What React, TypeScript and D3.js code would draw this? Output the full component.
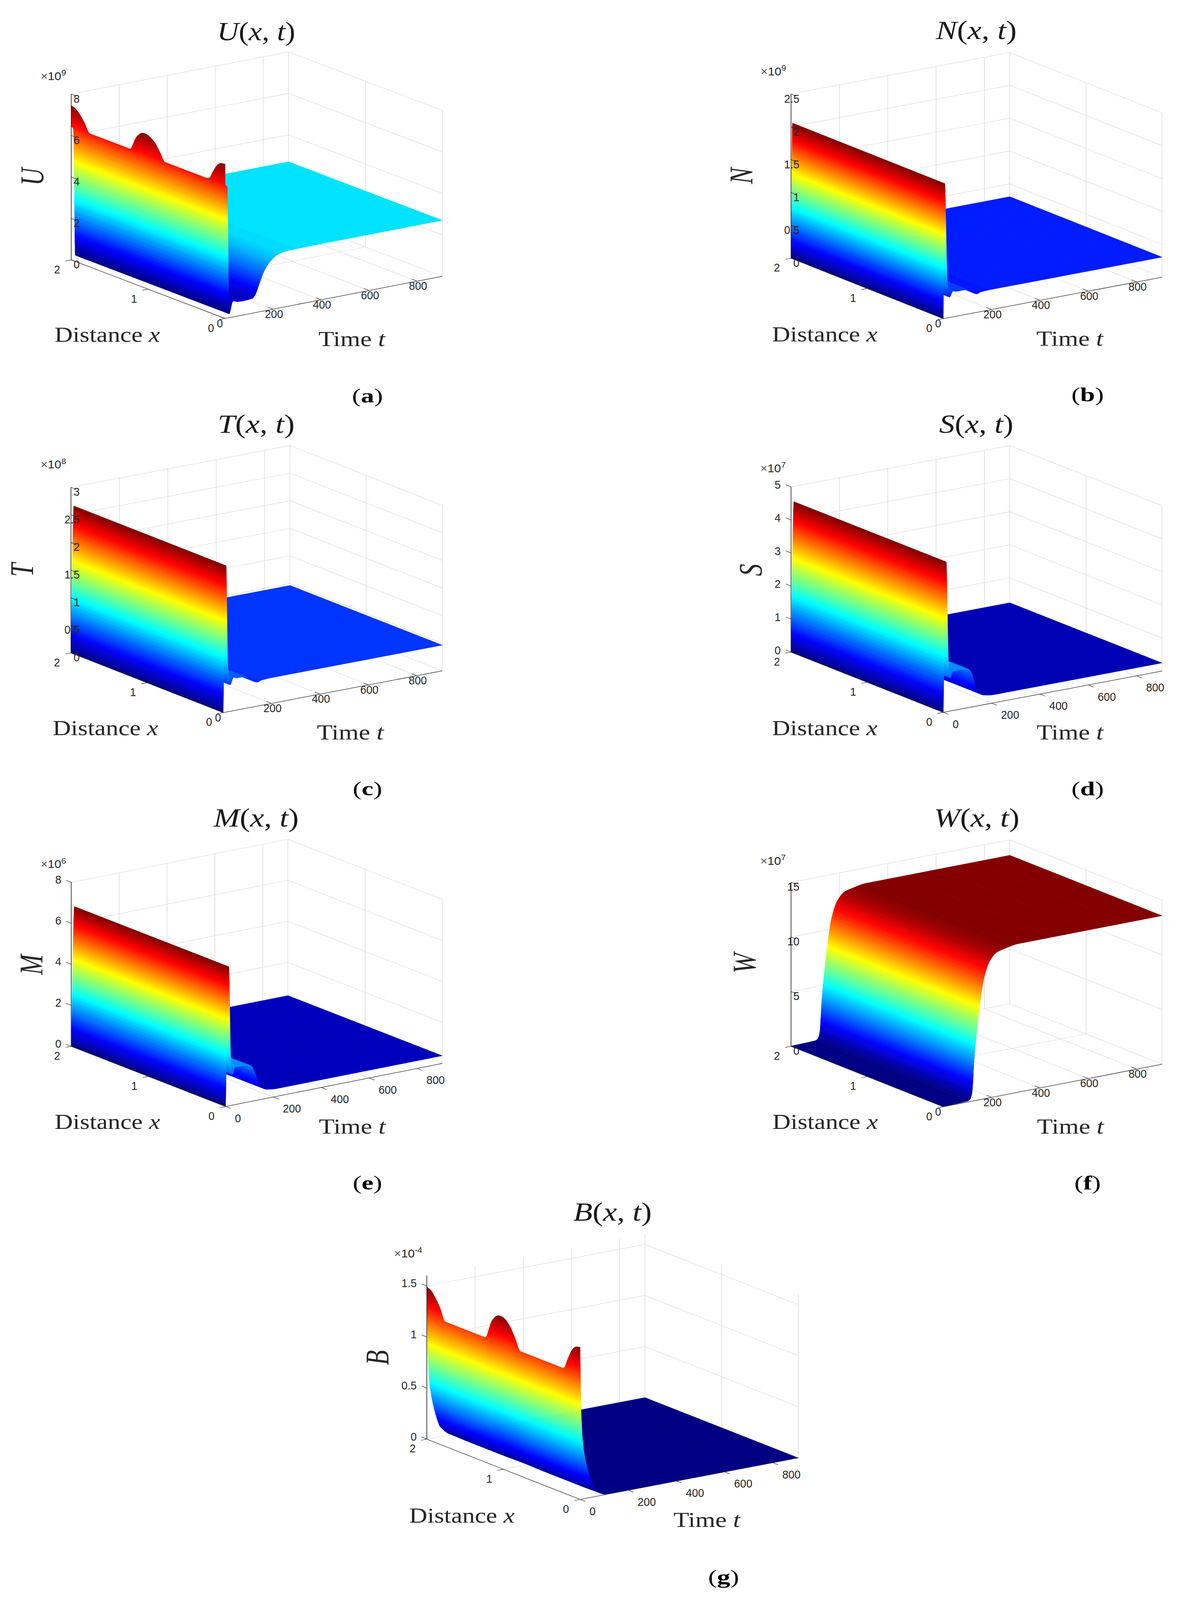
import React from "react";
import * as d3 from "d3";

// ---------- data (values in units of the axis exponent) ----------
const xKnots = [0, 0.05, 0.1, 0.15, 0.22, 0.78, 0.85, 0.92, 1.0, 1.04, 1.08, 1.15, 1.24, 1.76, 1.83, 1.9, 1.95, 2];
const noExcess = xKnots.map(() => 0);
const U_excess = [1.03, 1.0, 0.85, 0.5, 0, 0, 0.42, 0.8, 1.0, 1.03, 1.0, 0.72, 0, 0, 0.45, 0.8, 0.97, 1.03];
const B_excess = [0.27, 0.26, 0.22, 0.13, 0, 0, 0.11, 0.21, 0.265, 0.27, 0.26, 0.19, 0, 0, 0.12, 0.21, 0.255, 0.27];

const U_t = [0, 0.5, 9, 17, 33, 54, 80, 114, 125, 141, 160, 181, 200, 221, 261, 400, 905];
const U_z = [6.42, 6.42, 6.3, 0.19, 0.76, 0.69, 0.68, 0.71, 0.85, 1.3, 1.85, 2.24, 2.45, 2.6, 2.68, 2.7, 2.7];
const U_w = [1, 0, 0, 0, 0, 0, 0, 0, 0, 0, 0, 0, 0, 0, 0, 0, 0];

const N_t = [0, 6, 16, 26, 40, 55, 97, 140, 156, 199, 542, 905];
const N_z = [0, 2.05, 0.63, 0.31, 0.39, 0.377, 0.375, 0.28, 0.3, 0.305, 0.305, 0.305];

const T_t = [0, 12, 19, 29, 43, 56, 86, 142, 158, 200, 905];
const T_z = [0, 2.65, 0.87, 0.48, 0.6, 0.58, 0.577, 0.433, 0.454, 0.465, 0.465];

const S_t = [0, 12, 22, 30, 40, 101, 119, 137, 168, 210, 905];
const S_z = [0, 4.53, 1.39, 1.0, 1.19, 1.17, 0.99, 0.49, 0.29, 0.245, 0.245];

const M_t = [0, 13.5, 22, 29, 39, 107, 125, 144, 174, 217, 905];
const M_z = [0, 6.78, 2.1, 1.5, 1.83, 1.73, 1.28, 0.66, 0.43, 0.375, 0.375];

const W_t = [0, 101, 111, 119, 128, 150, 168, 192, 223, 259, 308, 905];
const W_z = [0.02, 0.09, 0.23, 0.79, 3.84, 8.5, 11, 12.5, 13.2, 13.4, 13.58, 13.58];

const B_t = [0, 4, 12, 31, 47, 55, 105, 200, 905];
const B_z = [1.22, 0.72, 0.44, 0.23, 0.12, 0.08, 0.003, 0, 0];
const B_w = [1, 0.59, 0.36, 0.19, 0.1, 0.066, 0.003, 0, 0];

const tTicks = [0, 200, 400, 600, 800];
const xTicks = [0, 1, 2];
const tMax = 905;

const U_zt = [0, 2, 4, 6, 8];
const N_zt = [0, 0.5, 1, 1.5, 2, 2.5];
const T_zt = [0, 0.5, 1, 1.5, 2, 2.5, 3];
const S_zt = [0, 1, 2, 3, 4, 5];
const M_zt = [0, 2, 4, 6, 8];
const W_zt = [0, 5, 10, 15];
const B_zt = [0, 0.5, 1, 1.5];

const zeros = (a: number[]) => a.map(() => 0);

// ---------- layout ----------
type Panel = {
  sym: string; cap: string; exp: string; t: number[]; z: number[]; w: number[]; ex: number[];
  zt: number[]; zMax: number; inward: boolean;
  F: number[]; L: number[]; R: number[]; topY: number;
  zLabX: number; zLabDy: number; expP: number[]; titleP: number[]; titleLen: number;
  symP: number[]; distP: number[]; timeP: number[]; capP: number[];
};

const panels: Panel[] = [
  { sym: "U", cap: "a", exp: "9", t: U_t, z: U_z, w: U_w, ex: U_excess, zt: U_zt, zMax: 8, inward: true,
    F: [576.3, 1095.8], L: [182.4, 894.2], R: [1132.7, 950.6], topY: 323.7,
    zLabX: 204, zLabDy: 15.7, expP: [104, 276], titleP: [656, 138], titleLen: 200,
    symP: [83, 608], distP: [274.7, 1176.6], timeP: [901, 1191], capP: [941, 1367] },
  { sym: "N", cap: "b", exp: "9", t: N_t, z: N_z, w: zeros(N_t), ex: noExcess, zt: N_zt, zMax: 2.5, inward: true,
    F: [2415.5, 1096.4], L: [2025.6, 888.4], R: [2975.7, 953.6], topY: 323.2,
    zLabX: 2047, zLabDy: 16, expP: [1948, 259], titleP: [2500, 134], titleLen: 207,
    symP: [1899, 605], distP: [2112, 1174], timeP: [2739.5, 1189], capP: [2785, 1363] },
  { sym: "T", cap: "c", exp: "8", t: T_t, z: T_z, w: zeros(T_t), ex: noExcess, zt: T_zt, zMax: 3, inward: true,
    F: [571.5, 2451.8], L: [181.7, 2246.4], R: [1132.5, 2308], topY: 1676.8,
    zLabX: 204, zLabDy: 15, expP: [104, 1612], titleP: [656, 1489], titleLen: 197,
    symP: [57, 1961], distP: [270, 2529.5], timeP: [897, 2544.6], capP: [941, 2720] },
  { sym: "S", cap: "d", exp: "7", t: S_t, z: S_z, w: zeros(S_t), ex: noExcess, zt: S_zt, zMax: 5, inward: false,
    F: [2415.5, 2450.9], L: [2025.6, 2243.8], R: [2975.7, 2308.9], topY: 1675,
    zLabX: 1999, zLabDy: -7, expP: [1947, 1625], titleP: [2500, 1489], titleLen: 190,
    symP: [1923, 1961], distP: [2112, 2529.5], timeP: [2740, 2544.6], capP: [2785, 2720] },
  { sym: "M", cap: "e", exp: "6", t: M_t, z: M_z, w: zeros(M_t), ex: noExcess, zt: M_zt, zMax: 8, inward: false,
    F: [577.6, 3807], L: [182.4, 3600], R: [1132.5, 3658.9], topY: 3035.7,
    zLabX: 157, zLabDy: -9, expP: [104, 2987], titleP: [656, 2844], titleLen: 218,
    symP: [81, 3319], distP: [275, 3884], timeP: [902, 3900], capP: [941, 4076] },
  { sym: "W", cap: "f", exp: "7", t: W_t, z: W_z, w: zeros(W_t), ex: noExcess, zt: W_zt, zMax: 15, inward: true,
    F: [2415.5, 3808], L: [2025.6, 3600], R: [2975.7, 3661.6], topY: 3035.7,
    zLabX: 2047, zLabDy: 15, expP: [1947, 2975], titleP: [2501, 2844], titleLen: 219,
    symP: [1907, 3314], distP: [2113, 3884], timeP: [2741, 3900], capP: [2785, 4076] },
  { sym: "B", cap: "g", exp: "-4", t: B_t, z: B_z, w: B_w, ex: B_excess, zt: B_zt, zMax: 1.6, inward: false,
    F: [1485.4, 5159], L: [1092.9, 4951.6], R: [2044.1, 5016], topY: 4389.3,
    zLabX: 1067, zLabDy: -9.5, expP: [1009, 4326.5], titleP: [1568.5, 4200], titleLen: 201,
    symP: [967, 4671], distP: [1182.8, 5239], timeP: [1810, 5253.7], capP: [1853, 5431] },
];

// ---------- helpers ----------
function pchip(xs: number[], ys: number[]) {
  const n = xs.length;
  const h = d3.pairs(xs, (a, b) => b - a);
  const s = d3.range(n - 1).map((i) => (ys[i + 1] - ys[i]) / h[i]);
  const m = xs.map((_, i) => {
    if (i === 0) return s[0];
    if (i === n - 1) return s[n - 2];
    if (s[i - 1] * s[i] <= 0) return 0;
    return (2 * s[i - 1] * s[i]) / (s[i - 1] + s[i]);
  });
  const bis = d3.bisector((v: number) => v).right;
  return (x: number) => {
    const i = Math.min(n - 2, Math.max(0, bis(xs, x) - 1));
    const u = (x - xs[i]) / h[i];
    const c = u * u, q = c * u;
    return (2 * q - 3 * c + 1) * ys[i] + (q - 2 * c + u) * h[i] * m[i] +
      (-2 * q + 3 * c) * ys[i + 1] + (q - c) * h[i] * m[i + 1];
  };
}

const jetBase = d3.scaleLinear<string>()
  .domain([0, 0.125, 0.375, 0.625, 0.875, 1])
  .range(["#000080", "#0000ff", "#00ffff", "#ffff00", "#ff0000", "#800000"])
  .clamp(true);
const LEVELS = 128;
const jetPalette = d3.range(LEVELS).map((i) => jetBase((i + 0.5) / LEVELS));

const SERIF = "'Liberation Serif', serif";
const SANS = "'Liberation Sans', sans-serif";
const INK = "#262626";
const GRID = "#dcdcdc";

function Surface({ p, px, py }: { p: Panel; px: (x: number, t: number) => number; py: (x: number, t: number, z: number) => number }) {
  const baseF = pchip(p.t, p.z);
  const weightF = pchip(p.t, p.w);
  const exF = pchip(xKnots, p.ex);
  const exMax = d3.max(p.ex) as number;
  const zVal = (x: number, t: number) => baseF(t) + weightF(t) * exF(x);
  const zLo = d3.min(p.z) as number;
  const zHi = d3.max(p.t, (t) => baseF(t) + weightF(t) * exMax) as number;
  const colorOf = d3.scaleQuantize<string>().domain([zLo, zHi]).range(jetPalette);
  const xCells = d3.range(0, 121).map((i) => 2 - i / 60);
  const out: { d: string; c: string }[] = [];
  const P = (x: number, t: number) => `${px(x, t).toFixed(1)},${py(x, t, zVal(x, t)).toFixed(1)}`;

  for (let s = p.t.length - 2; s >= 0; s--) {
    const a = p.t[s], b = p.t[s + 1];
    const dz = Math.max(Math.abs(p.z[s + 1] - p.z[s]), Math.abs(p.w[s + 1] - p.w[s]) * exMax);
    const n = Math.max(4, Math.ceil((dz / (zHi - zLo)) * 220));
    for (let j = n - 1; j >= 0; j--) {
      const t0 = a + ((b - a) * j) / n;
      const t1 = a + ((b - a) * (j + 1)) / n;
      const hasBump = exMax * Math.max(weightF(t0), weightF(t1)) > 1e-4 * (zHi - zLo);
      if (!hasBump) {
        const c = colorOf((baseF(t0) + baseF(t1)) / 2);
        out.push({ d: `M${P(2, t0)}L${P(0, t0)}L${P(0, t1)}L${P(2, t1)}Z`, c });
      } else {
        let start = 0;
        const cellColor = (i: number) => {
          const xm = (xCells[i] + xCells[i + 1]) / 2;
          return colorOf((zVal(xm, t0) + zVal(xm, t1)) / 2);
        };
        for (let i = 0; i < xCells.length - 1; i++) {
          const c = cellColor(i);
          if (i === xCells.length - 2 || cellColor(i + 1) !== c) {
            const seg = xCells.slice(start, i + 2);
            const top = seg.map((x) => P(x, t0));
            const bot = seg.slice().reverse().map((x) => P(x, t1));
            out.push({ d: `M${top.join("L")}L${bot.join("L")}Z`, c });
            start = i + 1;
          }
        }
      }
    }
  }
  return (
    <g>
      {out.map((o, i) => (
        <path key={i} d={o.d} fill={o.c} stroke={o.c} strokeWidth={0.9} strokeLinejoin="round" />
      ))}
    </g>
  );
}

function Label({ x, y, anchor, text }: { x: number; y: number; anchor: "start" | "middle" | "end"; text: string }) {
  return (
    <text transform={`translate(${x},${y}) scale(0.7,1)`} textAnchor={anchor} fontFamily={SANS} fontSize={40} fill={INK}>
      {text}
    </text>
  );
}

function Chart({ p }: { p: Panel }) {
  const [Fx, Fy] = p.F, [Lx, Ly] = p.L, [Rx, Ry] = p.R;
  const sxX = d3.scaleLinear().domain([0, 2]).range([0, Lx - Fx]);
  const sxY = d3.scaleLinear().domain([0, 2]).range([0, Ly - Fy]);
  const stX = d3.scaleLinear().domain([0, tMax]).range([0, Rx - Fx]);
  const stY = d3.scaleLinear().domain([0, tMax]).range([0, Ry - Fy]);
  const sz = d3.scaleLinear().domain([0, p.zMax]).range([0, p.topY - Ly]);
  const px = (x: number, t: number) => Fx + sxX(x) + stX(t);
  const py = (x: number, t: number, z: number) => Fy + sxY(x) + stY(t) + sz(z);

  const gridLine = (a: number[], b: number[], k: string) => (
    <line key={k} x1={a[0]} y1={a[1]} x2={b[0]} y2={b[1]} stroke={GRID} strokeWidth={1.6} />
  );
  const P3 = (x: number, t: number, z: number) => [px(x, t), py(x, t, z)];

  const grid: React.ReactNode[] = [];
  p.zt.forEach((z) => {
    grid.push(gridLine(P3(2, 0, z), P3(2, tMax, z), `zb${z}`));
    grid.push(gridLine(P3(2, tMax, z), P3(0, tMax, z), `zr${z}`));
  });
  tTicks.filter((t) => t > 0).forEach((t) => {
    grid.push(gridLine(P3(2, t, 0), P3(2, t, p.zMax), `tv${t}`));
    grid.push(gridLine(P3(0, t, 0), P3(2, t, 0), `tf${t}`));
  });
  grid.push(gridLine(P3(1, tMax, 0), P3(1, tMax, p.zMax), "xv1"));
  grid.push(gridLine(P3(1, 0, 0), P3(1, tMax, 0), "xf1"));
  grid.push(gridLine(P3(2, tMax, 0), P3(2, tMax, p.zMax), "bv"));
  grid.push(gridLine(P3(0, tMax, 0), P3(0, tMax, p.zMax), "rv"));

  const axisLine = (a: number[], b: number[], k: string, w = 1.7) => (
    <line key={k} x1={a[0]} y1={a[1]} x2={b[0]} y2={b[1]} stroke={INK} strokeWidth={w} />
  );
  const ax: React.ReactNode[] = [];
  ax.push(axisLine(P3(2, 0, 0), P3(0, 0, 0), "ax"));
  ax.push(axisLine(P3(0, 0, 0), P3(0, tMax, 0), "at"));
  ax.push(axisLine(P3(2, 0, 0), P3(2, 0, p.zMax), "az"));
  const labels: React.ReactNode[] = [];

  const ux = [(Lx - Fx) / Math.hypot(Lx - Fx, Ly - Fy), (Ly - Fy) / Math.hypot(Lx - Fx, Ly - Fy)];
  const ut = [(Rx - Fx) / Math.hypot(Rx - Fx, Ry - Fy), (Ry - Fy) / Math.hypot(Rx - Fx, Ry - Fy)];
  const len = 15;

  p.zt.forEach((z) => {
    const a = P3(2, 0, z);
    const dir = p.inward ? -1 : 1;
    ax.push(axisLine(a, [a[0] + dir * ux[0] * len, a[1] + dir * ux[1] * len], `zt${z}`, 1.5));
    labels.push(<Label key={`zl${z}`} x={p.zLabX} y={a[1] + p.zLabDy + 14} anchor="end" text={String(z)} />);
  });
  xTicks.forEach((x) => {
    const a = P3(x, 0, 0);
    ax.push(axisLine(a, [a[0] - ut[0] * len, a[1] - ut[1] * len], `xt${x}`, 1.5));
    labels.push(<Label key={`xl${x}`} x={a[0] - 36} y={a[1] + 32 + 14} anchor="middle" text={String(x)} />);
  });
  tTicks.forEach((t) => {
    const a = P3(0, t, 0);
    const dir = p.inward ? 1 : -1;
    ax.push(axisLine(a, [a[0] + dir * ux[0] * len, a[1] + dir * ux[1] * len], `tt${t}`, 1.5));
    const lx = p.inward ? a[0] - 21 : a[0] + 24;
    const ly = p.inward ? a[1] + 16 + 14 : a[1] + 40 + 14;
    labels.push(<Label key={`tl${t}`} x={lx} y={ly} anchor="start" text={String(t)} />);
  });

  return (
    <g>
      <g>{grid}</g>
      <Surface p={p} px={px} py={py} />
      <g>{ax}</g>
      <g>{labels}</g>
      <text transform={`translate(${p.expP[0]},${p.expP[1]}) scale(0.78,1)`} fontFamily={SANS} fontSize={40} fill={INK}>
        <tspan fill="#555" fontWeight={300}>×</tspan>
        <tspan>10</tspan>
        <tspan dy={-16} fontSize={28}>{p.exp}</tspan>
      </text>
      <text
        x={p.titleP[0] - p.titleLen / 2}
        y={p.titleP[1]}
        textLength={p.titleLen}
        lengthAdjust="spacingAndGlyphs"
        fontFamily={SERIF}
        fontSize={92}
        fill="#1a1a1a"
      >
        <tspan fontStyle="italic">{p.sym}</tspan>
        <tspan>(</tspan>
        <tspan fontStyle="italic">x</tspan>
        <tspan>, </tspan>
        <tspan fontStyle="italic">t</tspan>
        <tspan>)</tspan>
      </text>
      <text
        transform={`translate(${p.symP[0]},${p.symP[1]}) rotate(-90)`}
        textAnchor="middle"
        dy="0.33em"
        fontFamily={SERIF}
        fontStyle="italic"
        fontSize={84}
        fill={INK}
      >
        {p.sym}
      </text>
      <text x={p.distP[0] - 135} y={p.distP[1]} textLength={270} lengthAdjust="spacingAndGlyphs" fontFamily={SERIF} fontSize={74} fill={INK}>
        Distance <tspan fontStyle="italic">x</tspan>
      </text>
      <text x={p.timeP[0] - 85.5} y={p.timeP[1]} textLength={171} lengthAdjust="spacingAndGlyphs" fontFamily={SERIF} fontSize={74} fill={INK}>
        Time <tspan fontStyle="italic">t</tspan>
      </text>
      <text x={p.capP[0]} y={p.capP[1] + 17} textAnchor="middle" fontFamily={SERIF} fontSize={68} fill="#000">
        (<tspan fontWeight={700}>{p.cap}</tspan>)
      </text>
    </g>
  );
}

// The SVG fills whatever window it is opened in: 1:1 in a 3037x5505 window, and
// still showing all seven panels if the window turns out to be shorter than that.
export default function App() {
  return (
    <svg
      viewBox="0 0 3037 5505"
      preserveAspectRatio="none"
      style={{ position: "fixed", left: 0, top: 0, width: "100vw", height: "100vh", display: "block", background: "#fff" }}
    >
      {panels.map((p) => (
        <Chart key={p.cap} p={p} />
      ))}
    </svg>
  );
}
